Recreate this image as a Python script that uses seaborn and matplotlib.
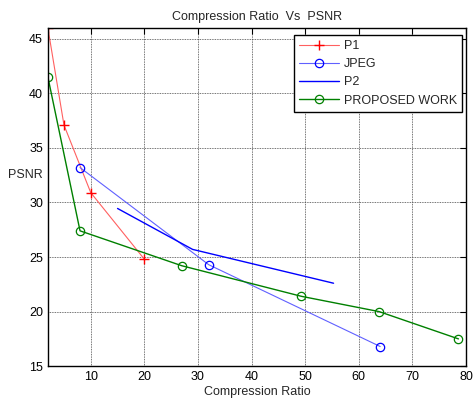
import matplotlib
matplotlib.use("Agg")
import matplotlib.pyplot as plt
import seaborn as sns

sns.set_style("white")
plt.rcParams['font.family'] = ['Liberation Sans', 'DejaVu Sans']

p1_x = [2, 5, 10, 20]
p1_y = [46, 37.1, 30.9, 24.8]
jpeg_x = [8, 32, 64]
jpeg_y = [33.2, 24.3, 16.8]
p2_x = [15, 29, 55.3]
p2_y = [29.45, 25.7, 22.6]
pw_x = [2, 8, 27, 49.3, 63.8, 78.6]
pw_y = [41.5, 27.4, 24.2, 21.4, 20.0, 17.5]
x_ticks = [10, 20, 30, 40, 50, 60, 70, 80]
y_ticks = [15, 20, 25, 30, 35, 40, 45]

fig = plt.figure(figsize=(4.74, 3.98), dpi=100)
ax = fig.add_axes([0.101, 0.080, 0.882, 0.850])

sns.lineplot(x=p1_x, y=p1_y, ax=ax, sort=False, color='#ff6060', lw=0.8,
             marker='+', markersize=7, markeredgecolor='red', markeredgewidth=1.0, label='P1')
sns.lineplot(x=jpeg_x, y=jpeg_y, ax=ax, sort=False, color='#6060ff', lw=0.8,
             marker='o', markersize=6, markerfacecolor='none', markeredgecolor='blue',
             markeredgewidth=0.9, label='JPEG')
sns.lineplot(x=p2_x, y=p2_y, ax=ax, sort=False, color='blue', lw=1.0, label='P2')
sns.lineplot(x=pw_x, y=pw_y, ax=ax, sort=False, color='green', lw=1.0,
             marker='o', markersize=6, markerfacecolor='none', markeredgecolor='green',
             markeredgewidth=0.9, label='PROPOSED WORK')

ax.set_xlim(2, 80)
ax.set_ylim(15, 46)
ax.set_xticks(x_ticks)
ax.set_yticks(y_ticks)
ax.grid(True, color='#444444', linestyle=(0, (1, 1)), linewidth=0.6)
ax.tick_params(direction='in', top=True, right=True, length=4, labelsize=9, colors='black')
for s in ax.spines.values():
    s.set_color('black')
    s.set_linewidth(1.0)
ax.set_title('Compression Ratio  Vs  PSNR', fontsize=9, pad=6)
ax.set_xlabel('Compression Ratio', fontsize=9, labelpad=2)
ax.set_ylabel('PSNR', fontsize=9, rotation=0, ha='center', va='center')
ax.yaxis.set_label_coords(-0.055, 0.565)

leg = ax.legend(loc='upper right', fontsize=9, frameon=True, fancybox=False,
                edgecolor='black', framealpha=1, borderpad=0.4, handlelength=3.2,
                labelspacing=0.5, handletextpad=0.35, borderaxespad=0,
                bbox_to_anchor=(0.990, 0.979))
leg.get_frame().set_linewidth(1.0)

fig.savefig('out.png', dpi=100)
